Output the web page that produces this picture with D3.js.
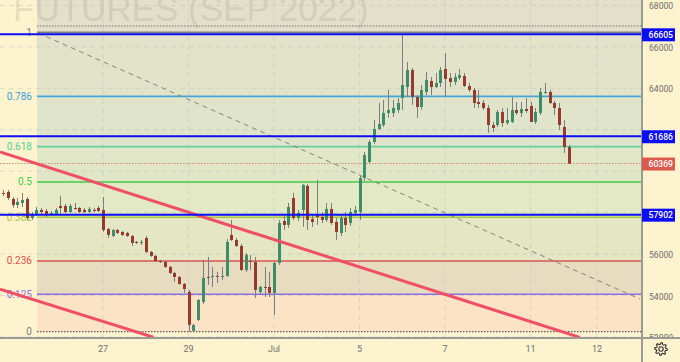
<!DOCTYPE html>
<html>
<head>
<meta charset="utf-8">
<script src="https://cdn.jsdelivr.net/npm/d3@7"></script>
<style>
	body { margin: 0; background: #fef3cf; }
	svg { display: block; font-family: Roboto, "Liberation Sans", sans-serif; }
</style>
</head>
<body>
<div id="chart"></div>
<script>

// candles, one per bar index
var opens = [
	58950,58950,58998,58660,58371,58467,58660,57744,57937,58130,
	58081,57937,57937,58323,58323,58033,58226,58226,58130,58033,
	58130,58226,58130,57213,56875,57165,57068,57020,56875,56586,
	56538,56779,56103,55911,55669,55621,55380,55090,54897,54560,
	54174,52293,52823,53691,54897,54897,54946,54897,54946,56924,
	56682,56393,55235,55669,55621,54174,54415,54415,54126,55573,
	57599,57406,58708,57744,58130,59287,57695,57888,57792,57647,
	58178,57551,57020,57744,57502,57985,58033,59673,60445,61410,
	62037,62230,62809,62809,62954,63532,64063,64883,63581,63098,
	63822,64353,64063,64256,64931,64497,64304,64497,64594,64111,
	63918,63339,63291,63050,62230,62230,62857,62326,62375,62954,
	62809,63002,63147,62375,62809,63774,63822,63291,63050,62133,
	61169
];
var highs = [
	59143,59094,59094,58757,58708,58950,58757,58033,58274,58226,
	58178,58081,58226,58805,58419,58419,58467,58274,58226,58274,
	58226,58323,58757,57261,57213,57213,57117,57068,56924,56634,
	56682,56875,56152,55959,55718,55669,55428,55139,54946,54608,
	54270,52630,53836,55718,55862,55380,55139,55380,56731,57647,
	56779,56489,56055,55959,55862,54463,55380,55139,55621,57647,
	57840,58467,58950,58130,59384,59384,57888,59577,58033,58467,
	58467,57744,57888,58033,58226,58323,59770,60927,61506,62471,
	63291,63436,63918,63436,63532,66700,65269,64980,63677,64160,
	64787,64545,64738,65028,65703,64738,64738,64931,64738,64256,
	64015,63918,63436,63195,62375,62954,63050,63050,63581,63339,
	63339,63532,63339,63050,64015,64256,63918,63388,63291,62471,
	61265
];
var lows = [
	58853,58805,58612,58226,58226,58274,57647,57647,57840,57937,
	57792,57840,57888,57937,57985,57985,58130,57985,57985,57985,
	58033,58033,57068,56779,56827,56972,56875,56827,56393,56489,
	56441,56055,55862,55621,55573,55332,55042,54656,54512,54126,
	52259,52270,52775,53595,54512,54415,54608,54753,54897,56634,
	56345,55187,55139,55235,53884,54077,53933,53933,53064,55476,
	57165,57261,57647,57599,57309,57165,57309,57406,57502,57551,
	57406,56682,56875,57068,57358,57840,57647,59529,60397,61313,
	61989,62133,62568,62616,62809,62954,63581,63195,62568,62954,
	63677,63677,64015,64063,63581,64063,64160,64401,64063,63822,
	63050,63050,62954,61844,61892,62133,62133,62230,62326,62712,
	62616,62809,62375,62278,62712,63725,63243,62712,61989,60879,
	60349
];
var closes = [
	59046,58901,58708,58371,58516,58612,57744,57888,58130,58033,
	57888,57985,58130,58226,58033,58323,58178,58033,58033,58178,
	58081,58081,57165,56924,57165,57020,56924,56875,56538,56538,
	56586,56103,55911,55669,55621,55380,55090,54897,54560,54319,
	52582,52582,53788,54849,54849,54946,54897,54946,56586,56682,
	56393,55235,55959,55621,54270,54415,54367,54126,55573,57502,
	57406,58274,57744,57985,59336,57647,57551,57792,57647,58178,
	57502,57068,57744,57406,58033,58130,59673,60783,61410,62037,
	62278,62809,62954,63050,63291,64160,64883,63581,63098,63918,
	64401,64063,64256,64883,64449,64304,64545,64642,64111,63918,
	63291,63243,63050,62230,62085,62857,62326,62471,62954,62809,
	63002,62905,62375,62857,63822,63822,63291,63050,62230,61169,
	60369
];

// axes
var date_ticks = [22, 40, 58, 76, 94, 112, 126];
var date_labels = ['27', '29', 'Jul', '5', '7', '11', '12'];
var price_ticks = [52000, 54000, 56000, 58000, 60000, 62000, 64000, 66000, 68000];

// fibonacci retracement
var fib_levels = [0, 0.125, 0.236, 0.382, 0.5, 0.618, 0.786, 1, 1.618];
var fib_low = 52259;
var fib_high = 66700;
var fib_start = 8.1;

// drawings
var h_lines = [66605, 61686, 57902];
var last_price = 60369;
var dotted_high = 67006;
var dashed_trend = [[8.3, 66670], [135, 53836]];
var channel_a = [[0.316, 60928], [122.4, 51979]];
var channel_b = [[0.316, 54304], [32.6, 51989]];

var watermark = 'FUTURES (SEP 2022)';


// styles
var fib_line_colors = ['#5a5a5a', '#8c6ee0', '#d9534f', '#a9c63a', '#45cc45', '#62cfa2', '#45a6dc', '#7c7c80', '#2962ff'];
var fib_label_colors = ['#808080', '#8c6ee0', '#e0504a', '#a9c63a', '#3fcf3f', '#4fcf94', '#3a9fd8', '#808080', '#2962ff'];
var fib_fills = ['#fde3c6', '#e8dcc0', '#e5e6c3', '#e3e8c5', '#e0e6c6', '#dfe4ca', '#e2e3c9', '#e4dfc9'];

var up_color = '#3e8c68',
	down_color = '#96392f',
	wick_color = '#7d7d7d';


// chart
var margin = {top: 0, right: 39, bottom: 25, left: 0},
	width = 680 - margin.left - margin.right,
	height = 362 - margin.top - margin.bottom;

var x = d3.scaleLinear().domain([0.316, 135.26]).range([0, width]);
var y = d3.scaleLinear().domain([52000, 68260]).range([height, 0]);

function fib_price(lvl) { return fib_low + lvl * (fib_high - fib_low); }

var svg = d3.select('#chart').append('svg')
	.attr('width', 680)
	.attr('height', 362);

svg.append('rect')
	.attr('width', 680).attr('height', 362)
	.attr('fill', '#fef3cf');

svg.append('clipPath').attr('id', 'plot-clip')
	.append('rect').attr('width', width).attr('height', height);
svg.append('clipPath').attr('id', 'axis-clip')
	.append('rect').attr('x', width).attr('width', 680 - width).attr('height', height);

var plot = svg.append('g').attr('clip-path', 'url(#plot-clip)');

// fib background zones
plot.append('g').selectAll('rect')
	.data(d3.range(fib_levels.length - 1))
	.enter().append('rect')
	  .attr('x', x(fib_start))
	  .attr('width', width - x(fib_start))
	  .attr('y', function(k) { return y(fib_price(fib_levels[k + 1])); })
	  .attr('height', function(k) { return y(fib_price(fib_levels[k])) - y(fib_price(fib_levels[k + 1])); })
	  .attr('fill', function(k) { return fib_fills[k]; });

// watermark
plot.append('text')
	.attr('x', 13).attr('y', 21)
	.attr('font-size', 35)
	.attr('font-family', '"Liberation Sans", sans-serif')
	.attr('fill', '#8a8676')
	.attr('fill-opacity', 0.2)
	.text(watermark);

// grid
var grid = plot.append('g')
	.attr('stroke', '#b9c4c8')
	.attr('stroke-opacity', 0.55)
	.attr('stroke-dasharray', '5,4');
grid.selectAll('.vgrid')
	.data(date_ticks)
	.enter().append('line')
	  .attr('x1', function(d) { return x(d); })
	  .attr('x2', function(d) { return x(d); })
	  .attr('y1', 0).attr('y2', height);
grid.selectAll('.hgrid')
	.data(price_ticks)
	.enter().append('line')
	  .attr('x1', 0).attr('x2', width)
	  .attr('y1', function(d) { return y(d); })
	  .attr('y2', function(d) { return y(d); });

// fib level lines
plot.append('g').selectAll('line')
	.data(fib_levels)
	.enter().append('line')
	  .attr('x1', x(fib_start)).attr('x2', width)
	  .attr('y1', function(d) { return y(fib_price(d)); })
	  .attr('y2', function(d) { return y(fib_price(d)); })
	  .attr('stroke', function(d, i) { return fib_line_colors[i]; })
	  .attr('stroke-width', function(d) { return d === 0 ? 1.4 : 1.6; })
	  .attr('stroke-dasharray', function(d) { return d === 0 ? '1.5,1.5' : null; });

plot.append('g').selectAll('text')
	.data(fib_levels)
	.enter().append('text')
	  .attr('x', x(fib_start) - 5)
	  .attr('y', function(d) { return y(fib_price(d)); })
	  .attr('dy', '0.35em')
	  .attr('text-anchor', 'end')
	  .attr('font-size', 10)
	  .attr('fill', function(d, i) { return fib_label_colors[i]; })
	  .text(function(d) { return d; });

// dotted high line and last price line
plot.append('line')
	.attr('x1', x(fib_start)).attr('x2', width)
	.attr('y1', y(dotted_high)).attr('y2', y(dotted_high))
	.attr('stroke', '#6f6f6f').attr('stroke-width', 1)
	.attr('stroke-dasharray', '1.5,1.5');
plot.append('line')
	.attr('x1', 0).attr('x2', width)
	.attr('y1', y(last_price)).attr('y2', y(last_price))
	.attr('stroke', '#d98670').attr('stroke-width', 1)
	.attr('stroke-dasharray', '1.5,1.5');

// candles
var candles = d3.range(opens.length).map(function(i) {
	return {'i': i, 'o': opens[i], 'h': highs[i], 'l': lows[i], 'c': closes[i]};
});

var candle = plot.append('g').selectAll('g')
	.data(candles)
	.enter().append('g');

candle.append('line')
	.attr('x1', function(d) { return Math.round(x(d.i)) + 0.5; })
	.attr('x2', function(d) { return Math.round(x(d.i)) + 0.5; })
	.attr('y1', function(d) { return y(d.h); })
	.attr('y2', function(d) { return y(d.l); })
	.attr('stroke', wick_color)
	.attr('stroke-width', 1);

candle.append('rect')
	.attr('x', function(d) { return Math.round(x(d.i)) - 1; })
	.attr('width', 3)
	.attr('y', function(d) { return y(Math.max(d.o, d.c)); })
	.attr('height', function(d) { return Math.max(1, Math.abs(y(d.o) - y(d.c))); })
	.attr('fill', function(d) { return d.c >= d.o ? up_color : down_color; });

// trend lines
var line = d3.line()
	.x(function(d) { return x(d[0]); })
	.y(function(d) { return y(d[1]); });

plot.append('path')
	.attr('d', line(dashed_trend))
	.attr('fill', 'none')
	.attr('stroke', '#85857a')
	.attr('stroke-width', 1)
	.attr('stroke-dasharray', '5,4');

plot.selectAll('.channel')
	.data([channel_a, channel_b])
	.enter().append('path')
	  .attr('d', line)
	  .attr('fill', 'none')
	  .attr('stroke', '#ef5068')
	  .attr('stroke-width', 3);

// horizontal levels
plot.selectAll('.hline')
	.data(h_lines)
	.enter().append('line')
	  .attr('x1', 0).attr('x2', width)
	  .attr('y1', function(d) { return y(d); })
	  .attr('y2', function(d) { return y(d); })
	  .attr('stroke', '#0c0cf5')
	  .attr('stroke-width', 2);

// axes frame
svg.append('line')
	.attr('x1', width + 1).attr('x2', width + 1)
	.attr('y1', 0).attr('y2', 362)
	.attr('stroke', '#9b9b95').attr('stroke-width', 2);
svg.append('line')
	.attr('x1', 0).attr('x2', 680)
	.attr('y1', height + 1).attr('y2', height + 1)
	.attr('stroke', '#9b9b95').attr('stroke-width', 2);

// price axis, tick labels hidden under a tag are left out
var labels = h_lines.map(function(d) { return {'v': d, 'bg': '#0c0cf5'}; });
labels.push({'v': last_price, 'bg': '#dc5a4d'});

var visible_ticks = price_ticks.filter(function(t) {
	return labels.every(function(l) { return Math.abs(y(t) - y(l.v)) > 8; });
});

var price_axis = svg.append('g').attr('clip-path', 'url(#axis-clip)');
price_axis.selectAll('text')
	.data(visible_ticks)
	.enter().append('text')
	  .attr('x', width + 8)
	  .attr('y', function(d) { return y(d) + 1; })
	  .attr('dy', '0.35em')
	  .attr('font-size', 8.6)
	  .attr('fill', '#6e6e6e')
	  .text(function(d) { return d; });

var tag = price_axis.selectAll('.tag')
	.data(labels)
	.enter().append('g');
tag.append('rect')
	.attr('x', width + 1)
	.attr('y', function(d) { return y(d.v) - 6; })
	.attr('width', 33).attr('height', 13)
	.attr('fill', function(d) { return d.bg; });
tag.append('text')
	.attr('x', width + 7.5)
	.attr('y', function(d) { return y(d.v) + 0.5; })
	.attr('dy', '0.35em')
	.attr('font-size', 8.6)
	.attr('font-weight', 500)
	.attr('fill', '#fff')
	.text(function(d) { return d.v; });

// time axis
svg.append('g').selectAll('text')
	.data(date_ticks)
	.enter().append('text')
	  .attr('x', function(d, i) { return x(d); })
	  .attr('y', 352)
	  .attr('text-anchor', 'middle')
	  .attr('font-size', 9)
	  .attr('fill', '#6e6e6e')
	  .text(function(d, i) { return date_labels[i]; });

// settings gear
var gear_pts = d3.range(32).map(function(k) {
	var a = k / 32 * 2 * Math.PI;
	var r = (k % 4 < 2) ? 6.3 : 4.6;
	return [a, r];
});
svg.append('path')
	.attr('transform', 'translate(661,349)')
	.attr('d', d3.lineRadial().curve(d3.curveLinearClosed)(gear_pts))
	.attr('fill', 'none')
	.attr('stroke', '#333')
	.attr('stroke-width', 1.1);
svg.append('circle')
	.attr('cx', 661).attr('cy', 349).attr('r', 2.2)
	.attr('fill', 'none')
	.attr('stroke', '#333')
	.attr('stroke-width', 1.1);

</script>
</body>
</html>
